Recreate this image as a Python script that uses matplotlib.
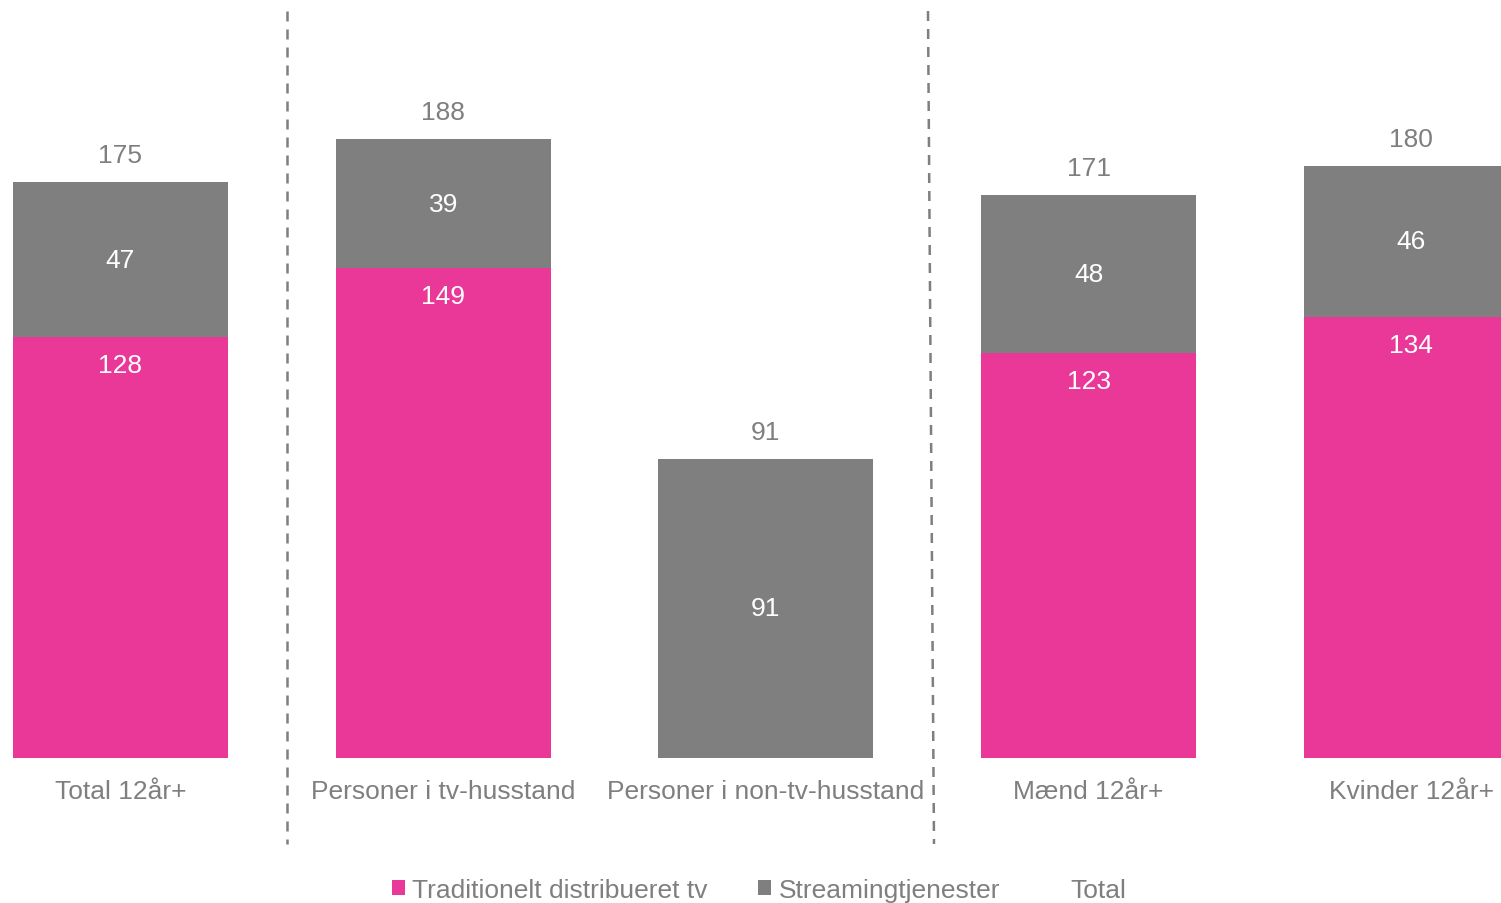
import matplotlib
matplotlib.use("Agg")
import matplotlib.pyplot as plt
from matplotlib.patches import Patch
from matplotlib.lines import Line2D

# Viewing time per group (minutes)
categories = ["Total 12år+", "Personer i tv-husstand", "Personer i non-tv-husstand",
              "Mænd 12år+", "Kvinder 12år+"]
traditionelt = [128, 149, 0, 123, 134]
streaming = [47, 39, 91, 48, 46]
totals = [175, 188, 91, 171, 180]
legend_labels = ["Traditionelt distribueret tv", "Streamingtjenester", "Total"]

PINK = "#EA3899"
GREY = "#7F7F7F"
TEXT = "#7F7F7F"
FS = 19

plt.rcParams["font.family"] = ["Liberation Sans", "DejaVu Sans"]

fig = plt.figure(figsize=(15.01, 9.04), dpi=100)
ax = fig.add_axes([0, 145 / 904, 1, 759 / 904])

x = list(range(len(categories)))
width = 0.666
ax.bar(x, traditionelt, width=width, color=PINK, linewidth=0)
ax.bar(x, streaming, width=width, bottom=traditionelt, color=GREY, linewidth=0)

px_per_unit = 3.29
for xi, t, s, tot in zip(x, traditionelt, streaming, totals):
    # total above the bar
    ax.text(xi, tot + 27 / px_per_unit, f"{tot}", ha="center", va="center",
            fontsize=FS, color=TEXT)
    # streaming value in the middle of its segment
    ax.text(xi, t + s / 2, f"{s}", ha="center", va="center",
            fontsize=FS, color="white")
    # traditional value near the top of its segment
    if t > 0:
        ax.text(xi, t - 28 / px_per_unit, f"{t}", ha="center", va="center",
                fontsize=FS, color="white")

ax.set_xlim(-120.5 / 322.7, (1501 - 120.5) / 322.7)
ax.set_ylim(0, 759 / px_per_unit)
ax.set_xticks(x)
ax.set_xticklabels(categories, fontsize=FS, color=TEXT)
ax.tick_params(axis="x", length=0, pad=15)
ax.set_yticks([])
for sp in ax.spines.values():
    sp.set_visible(False)

# dashed group separators
y_top = (759 - 12) / px_per_unit
y_bot = (759 - 845) / px_per_unit
for x0, x1 in [((287 - 120.5) / 322.7, (287 - 120.5) / 322.7),
               ((928 - 120.5) / 322.7, (934 - 120.5) / 322.7)]:
    ax.add_line(Line2D([x0, x1], [y_top, y_bot], color=GREY, linewidth=1.8,
                       linestyle=(0, (4, 3.2)), clip_on=False))

handles = [Patch(facecolor=PINK, edgecolor="none"),
           Patch(facecolor=GREY, edgecolor="none"),
           Patch(facecolor="none", edgecolor="none")]
fig.legend(handles, legend_labels, loc="center", bbox_to_anchor=(0.5057, 1 - 891 / 904),
           ncol=3, frameon=False, fontsize=FS, labelcolor=TEXT,
           handlelength=0.5, handleheight=0.5, handletextpad=0.28,
           columnspacing=1.9)

fig.savefig("out.png", dpi=100)
